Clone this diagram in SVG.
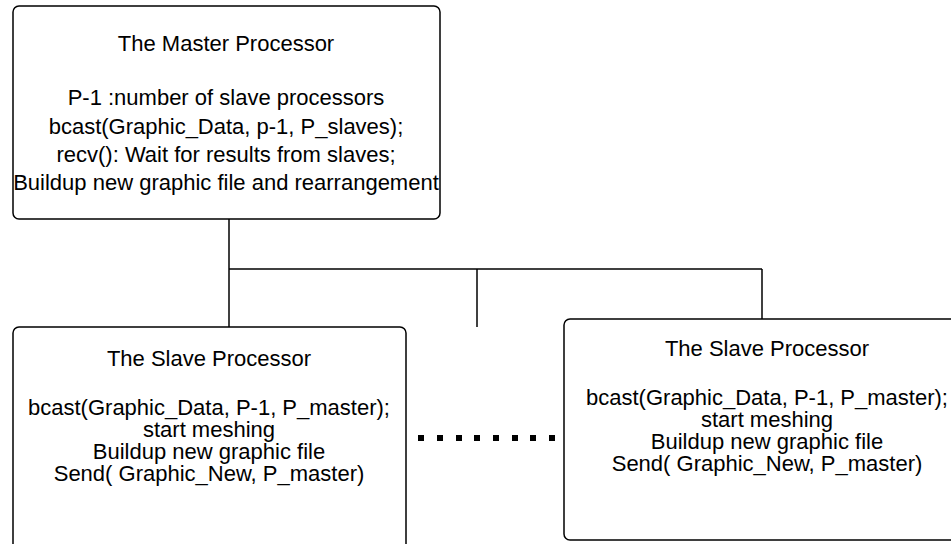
<svg xmlns="http://www.w3.org/2000/svg" width="951" height="544" viewBox="0 0 951 544">
<style>
.box{fill:#fff;stroke:#000;stroke-width:1.5}
.t{font-family:"Liberation Sans",Arial,sans-serif;font-size:22px;fill:#000;text-anchor:middle}
.c{stroke:#000;stroke-width:1.5;fill:none}
.dot{fill:#000}
</style>
<rect width="951" height="544" fill="#fff"/>
<g id="connectors">
<line class="c" x1="229" y1="219" x2="229" y2="327"/>
<line class="c" x1="229" y1="269" x2="762" y2="269"/>
<line class="c" x1="477" y1="269" x2="477" y2="327"/>
<line class="c" x1="762" y1="269" x2="762" y2="319"/>
</g>
<g id="master">
<rect class="box" x="13" y="6" width="427" height="213" rx="6"/>
<text class="t" x="226" y="51">The Master Processor</text>
<text class="t" x="226" y="105">P-1 :number of slave processors</text>
<text class="t" x="226" y="134">bcast(Graphic_Data, p-1, P_slaves);</text>
<text class="t" x="226" y="162">recv(): Wait for results from slaves;</text>
<text class="t" x="226" y="190">Buildup new graphic file and rearrangement</text>
</g>
<g id="slave1">
<rect class="box" x="13" y="327" width="393" height="230" rx="6"/>
<text class="t" x="209" y="366">The Slave Processor</text>
<text class="t" x="209" y="415">bcast(Graphic_Data, P-1, P_master);</text>
<text class="t" x="209" y="437">start meshing</text>
<text class="t" x="209" y="459">Buildup new graphic file</text>
<text class="t" x="209" y="481">Send( Graphic_New, P_master)</text>
</g>
<g id="ellipsis">
<rect class="dot" x="418" y="435" width="6" height="6"/>
<rect class="dot" x="437" y="435" width="6" height="6"/>
<rect class="dot" x="456" y="435" width="6" height="6"/>
<rect class="dot" x="474" y="435" width="6" height="6"/>
<rect class="dot" x="493" y="435" width="6" height="6"/>
<rect class="dot" x="512" y="435" width="6" height="6"/>
<rect class="dot" x="530" y="435" width="6" height="6"/>
<rect class="dot" x="549" y="435" width="6" height="6"/>
</g>
<g id="slave2">
<rect class="box" x="564" y="319" width="406" height="221" rx="6"/>
<text class="t" x="767" y="356">The Slave Processor</text>
<text class="t" x="767" y="405">bcast(Graphic_Data, P-1, P_master);</text>
<text class="t" x="767" y="427">start meshing</text>
<text class="t" x="767" y="449">Buildup new graphic file</text>
<text class="t" x="767" y="471">Send( Graphic_New, P_master)</text>
</g>
</svg>
